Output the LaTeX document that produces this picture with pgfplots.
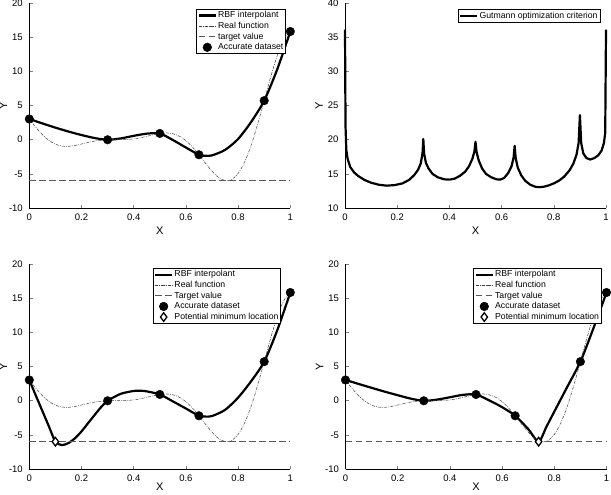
\documentclass[border=0pt]{standalone}
\usepackage{fontspec}
\setmainfont{Liberation Sans}
\usepackage{pgfplots}
\usepackage{pgfplotstable}
\pgfplotsset{compat=1.18}

\pgfplotstableread{
x y
0 3.027
0.025 1.813
0.05 0.738
0.075 -0.100
0.1 -0.657
0.125 -0.935
0.15 -0.978
0.175 -0.854
0.2 -0.640
0.225 -0.407
0.25 -0.210
0.275 -0.079
0.3 -0.016
0.325 0.000
0.35 0.002
0.375 0.030
0.4 0.115
0.425 0.270
0.45 0.483
0.475 0.717
0.5 0.909
0.525 0.986
0.55 0.871
0.575 0.503
0.6 -0.150
0.625 -1.074
0.65 -2.209
0.675 -3.439
0.7 -4.606
0.725 -5.522
0.75 -5.993
0.7625 -6.007
0.775 -5.845
0.8 -4.949
0.825 -3.254
0.85 -0.799
0.875 2.272
0.9 5.712
0.925 9.187
0.95 12.303
0.975 14.648
1 15.830
}\realfn

\pgfplotstableread{
x y
0 3.027
0.3 -0.016
0.5 0.909
0.65 -2.209
0.9 5.712
1 15.830
}\dataset

\pgfplotstableread{
x y
0 3.03
0.05 2.38
0.1 1.76
0.15 1.19
0.2 0.68
0.25 0.24
0.3 -0.02
0.35 0.18
0.4 0.56
0.45 0.88
0.5 0.91
0.55 -0.05
0.6 -1.15
0.65 -2.21
0.675 -2.36
0.7 -2.3
0.75 -1.5
0.8 0.1
0.85 2.6
0.9 5.71
0.95 10.3
1 15.83
}\rbfA

\pgfplotstableread{
x y
0 3.03
0.025 0.75
0.05 -1.5
0.075 -3.75
0.1 -6.0
0.125 -6.5
0.15 -6.2
0.175 -5.5
0.2 -4.5
0.225 -3.3
0.25 -2.1
0.275 -0.95
0.3 -0.02
0.35 1.0
0.4 1.42
0.425 1.46
0.45 1.36
0.5 0.91
0.55 -0.1
0.6 -1.15
0.65 -2.21
0.675 -2.33
0.7 -2.25
0.75 -1.35
0.8 0.45
0.85 2.85
0.9 5.71
0.95 10.3
1 15.83
}\rbfB

\pgfplotstableread{
x y
0 3.03
0.05 2.45
0.1 1.88
0.15 1.32
0.2 0.8
0.25 0.3
0.3 -0.02
0.35 0.15
0.4 0.5
0.45 0.85
0.5 0.91
0.55 0.05
0.6 -0.95
0.65 -2.21
0.7 -4.15
0.74 -6.0
0.77 -3.8
0.8 -1.6
0.85 2.05
0.9 5.71
0.95 10.6
1 15.83
}\rbfC

\pgfplotstableread{
x y
0 36.1
0.002 22
0.005 18.5
0.01 17.2
0.02 16.0
0.035 15.2
0.05 14.7
0.075 14.1
0.1 13.7
0.13 13.4
0.16 13.27
0.19 13.35
0.22 13.6
0.245 14.1
0.265 14.8
0.28 15.6
0.29 16.5
0.297 18.0
0.3 20.1
0.303 18.0
0.31 16.6
0.32 15.8
0.335 15.0
0.355 14.5
0.38 14.2
0.4 14.15
0.42 14.3
0.44 14.7
0.46 15.3
0.475 16.1
0.488 17.2
0.496 18.3
0.5 19.7
0.504 18.2
0.512 17.0
0.525 15.8
0.54 15.0
0.56 14.5
0.58 14.2
0.595 14.15
0.61 14.4
0.625 15.1
0.638 16.1
0.646 17.4
0.65 19.1
0.654 17.3
0.662 15.9
0.675 14.8
0.69 14.0
0.71 13.4
0.73 13.1
0.745 13.05
0.76 13.1
0.78 13.3
0.8 13.6
0.82 14.0
0.84 14.6
0.86 15.5
0.875 16.5
0.887 17.8
0.895 19.5
0.9 23.6
0.905 19.5
0.913 18.0
0.925 17.3
0.94 17.1
0.955 17.3
0.97 17.7
0.983 18.4
0.992 19.5
0.997 21
1 36.1
}\gutmann

\pgfplotsset{
  panel/.style={
    scale only axis, width=261pt, height=205pt,
    xmin=0, xmax=1,
    axis lines=left, axis line style={-, line width=0.6pt},
    tick align=inside, major tick length=3.5pt,
    tick style={line width=0.6pt},
    xtick={0,0.2,0.4,0.6,0.8,1},
    xticklabels={0,0.2,0.4,0.6,0.8,1},
    /pgf/number format/assume math mode=true,
    tick label style={font=\fontsize{9.5}{10}\selectfont},
    xticklabel style={yshift=-2pt},
    yticklabel style={xshift=-3pt},
    xlabel={X}, ylabel={Y},
    every axis x label/.style={at={(axis description cs:0.5,-0.112)}, anchor=center, font=\fontsize{11}{12}\selectfont},
    every axis y label/.style={at={(axis description cs:-0.099,0.5)}, anchor=center, rotate=90, font=\fontsize{11}{12}\selectfont},
    legend cell align=left,
    legend style={draw=black, line width=0.5pt, anchor=north east,
      font=\fontsize{8.7}{9}\selectfont, inner sep=1pt, row sep=0pt,
      nodes={inner sep=1.2pt, text height=6.4pt, text depth=1.8pt}},
    clip=false,
  },
  lower/.style={
    xticklabel style={yshift=-0.5pt},
    every axis x label/.style={at={(axis description cs:0.5,-0.087)}, anchor=center, font=\fontsize{11}{12}\selectfont},
  },
  rbf/.style={black, line width=2.2pt, smooth, tension=0.45, line join=round},
  realf/.style={black!75, line width=0.5pt, smooth, dash pattern=on 3pt off 1.2pt on 0.8pt off 1.2pt},
  target/.style={black!65, line width=0.8pt, dash pattern=on 6.5pt off 3.5pt},
  dots/.style={only marks, mark=*, mark size=4.3pt, mark options={fill=black, draw=black}},
  diam/.style={only marks, mark=diamond*, mark size=4.3pt, mark options={fill=white, draw=black, line width=1.3pt}},
}

\begin{document}
\begin{tikzpicture}
\useasboundingbox (0,0) rectangle (611pt,-495pt);

% top left
\begin{axis}[panel, at={(29.3pt,-208pt)}, anchor=south west,
  ymin=-10, ymax=20, ytick={-10,-5,0,5,10,15,20},
  legend style={at={(0.983,0.971)}}]
\addplot[rbf] table {\rbfA};
\addlegendentry{RBF interpolant}
\addplot[realf] table {\realfn};
\addlegendentry{Real function}
\addplot[target] coordinates {(0,-6) (1,-6)};
\addlegendentry{target value}
\addplot[dots] table {\dataset};
\addlegendentry{Accurate dataset}
\end{axis}

% top right
\begin{axis}[panel, at={(345pt,-208pt)}, anchor=south west,
  ymin=10, ymax=40, ytick={10,15,20,25,30,35,40},
  legend style={at={(0.977,0.969)}}]
\addplot[black, line width=2.2pt, line join=round] table {\gutmann};
\addlegendentry{Gutmann optimization criterion}
\end{axis}

% bottom left
\begin{axis}[panel, lower, at={(29.3pt,-469pt)}, anchor=south west,
  ymin=-10, ymax=20, ytick={-10,-5,0,5,10,15,20},
  legend style={at={(0.964,0.98)}}]
\addplot[rbf] table {\rbfB};
\addlegendentry{RBF interpolant}
\addplot[realf] table {\realfn};
\addlegendentry{Real function}
\addplot[target] coordinates {(0,-6) (1,-6)};
\addlegendentry{Target value}
\addplot[dots] table {\dataset};
\addlegendentry{Accurate dataset}
\addplot[diam] coordinates {(0.1,-6)};
\addlegendentry{Potential minimum location}
\end{axis}

% bottom right
\begin{axis}[panel, lower, at={(345.5pt,-469pt)}, anchor=south west,
  ymin=-10, ymax=20, ytick={-10,-5,0,5,10,15,20},
  legend style={at={(0.981,0.98)}}]
\addplot[rbf] table {\rbfC};
\addlegendentry{RBF interpolant}
\addplot[realf] table {\realfn};
\addlegendentry{Real function}
\addplot[target] coordinates {(0,-6) (1,-6)};
\addlegendentry{Target value}
\addplot[dots] table {\dataset};
\addlegendentry{Accurate dataset}
\addplot[diam] coordinates {(0.74,-6)};
\addlegendentry{Potential minimum location}
\end{axis}
\end{tikzpicture}
\end{document}
